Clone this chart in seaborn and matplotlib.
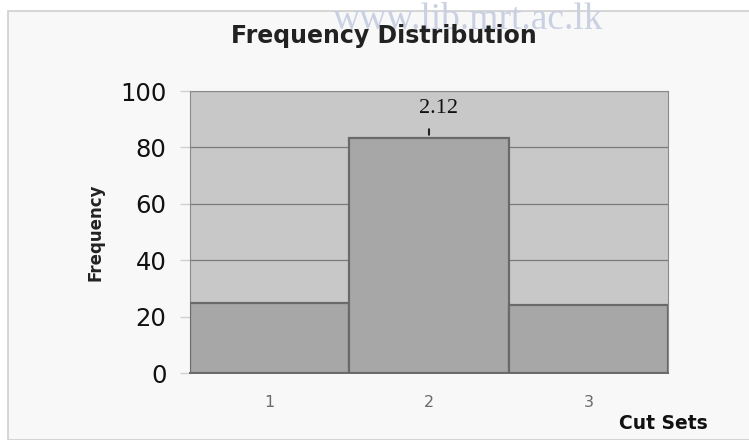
import matplotlib
matplotlib.use("Agg")
import matplotlib.pyplot as plt
import seaborn as sns
import pandas as pd
from matplotlib.patches import Rectangle

# ---- data ----
categories = ["1", "2", "3"]
frequencies = [25, 83.5, 24]
annotation_label = "2.12"
title = "Frequency Distribution"
y_label = "Frequency"
x_label = "Cut Sets"
y_ticks = [0, 20, 40, 60, 80, 100]

sns.set_theme(style="white")
plt.rcParams["font.family"] = ["DejaVu Sans"]

df = pd.DataFrame({"cut": categories, "freq": frequencies})

fig = plt.figure(figsize=(7.49, 4.40), dpi=100)
fig.patch.set_facecolor("white")

# outer chart frame
frame = Rectangle((8 / 749, 0), 1.0, 1 - 11 / 440, transform=fig.transFigure,
                  facecolor="#f8f8f8", edgecolor="#cfcfcf", linewidth=1.2, zorder=-10)
fig.patches.append(frame)

ax = fig.add_axes([190 / 749, 1 - 373 / 440, (668 - 190) / 749, (373 - 91) / 440])
ax.set_facecolor("#c8c8c8")

sns.barplot(data=df, x="cut", y="freq", ax=ax, width=1.0, color="#a7a7a7",
            saturation=1, edgecolor="#6a6a6a", linewidth=1.6, zorder=3)

ax.set_xlim(-0.5, 2.5)
ax.set_ylim(0, 100)
ax.set_yticks(y_ticks)
ax.yaxis.grid(True, color="#7a7a7a", linewidth=0.9, zorder=1)
ax.set_axisbelow(True)
for s in ["top", "right"]:
    ax.spines[s].set_color("#8a8a8a")
    ax.spines[s].set_linewidth(0.8)
ax.spines["left"].set_color("#8a8a8a")
ax.spines["left"].set_linewidth(0.8)
ax.spines["bottom"].set_color("#6a6a6a")
ax.spines["bottom"].set_linewidth(1.4)

ax.tick_params(axis="y", labelsize=17.5, labelcolor="#111111", length=7,
               color="#d0d0d0", width=1, pad=10, left=True)
ax.tick_params(axis="x", labelsize=11.5, labelcolor="#6a6a6a", length=0, pad=16)
ax.set_xlabel("")
ax.set_ylabel(y_label, fontsize=12, fontweight="bold", color="#222222", labelpad=11)

# faint scan watermark
fig.text(468 / 749, 1 - 29 / 440, "www.lib.mrt.ac.lk", ha="center", va="baseline",
         fontsize=27, family=["Liberation Serif", "DejaVu Serif"], color="#c9d0e2",
         zorder=-5)

fig.text(0.513, 1 - 43 / 440, title, ha="center", va="baseline",
         fontsize=17, fontweight="bold", color="#222222")
fig.text(708 / 749, 1 - 423 / 440, x_label, ha="right", va="center",
         fontsize=13.5, fontweight="bold", color="#111111")

# label above middle bar
ax.annotate(annotation_label, xy=(1, frequencies[1]), xytext=(7, 14),
            textcoords="offset points", ha="center", va="bottom",
            fontsize=16, family=["Liberation Serif", "DejaVu Serif"], color="#111111")
ax.annotate("", xy=(1, frequencies[1]), xytext=(0, 8), textcoords="offset points",
            arrowprops=dict(arrowstyle="-", color="#222222", lw=1.5))

fig.savefig("out.png", dpi=100)
